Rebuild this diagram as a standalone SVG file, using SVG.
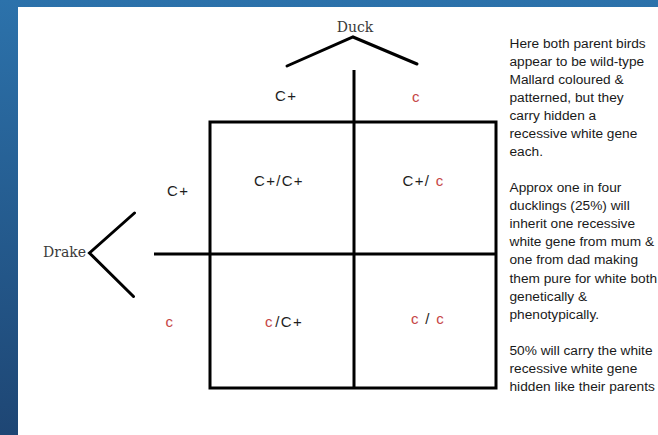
<svg xmlns="http://www.w3.org/2000/svg" width="658" height="435" viewBox="0 0 658 435">
  <defs>
    <linearGradient id="bg" x1="0" y1="0" x2="0" y2="1">
      <stop offset="0" stop-color="#2c72ab"/>
      <stop offset="1" stop-color="#1e4674"/>
    </linearGradient>
  </defs>
  <style>
    .ln { stroke: #000; stroke-width: 3; fill: none; }
    .caret { stroke: #000; stroke-width: 3; fill: none; stroke-linecap: round; stroke-linejoin: miter; }
    .parent { font-family: "DejaVu Serif", "Liberation Serif", serif; font-size: 14px; fill: #3a3a3a; }
    .lbl { font-family: "Liberation Sans", Arial, sans-serif; font-size: 15px; fill: #1e1e1e; letter-spacing: 1.3px; }
    .red { fill: #c64646; }
    .note { font-family: "Liberation Sans", Arial, sans-serif; font-size: 13.7px; fill: #1a1a1a; }
  </style>

  <rect x="0" y="0" width="658" height="435" fill="url(#bg)"/>
  <rect x="18" y="7" width="640" height="428" fill="#ffffff"/>

  <g id="connectors">
    <rect class="ln" x="210" y="122" width="286" height="266"/>
    <line class="ln" x1="354" y1="70" x2="354" y2="388"/>
    <line class="ln" x1="154" y1="254" x2="496" y2="254"/>
  </g>

  <g id="duck">
    <polyline class="caret" points="287,66 353,37 417,64"/>
    <text class="parent" x="355" y="31.5" text-anchor="middle">Duck</text>
  </g>

  <g id="drake">
    <polyline class="caret" points="134.5,213 89.5,253 133.5,296.5"/>
    <text class="parent" x="64.5" y="257" text-anchor="middle">Drake</text>
  </g>

  <g id="duck-alleles">
    <text class="lbl" x="275" y="101">C+</text>
    <text class="lbl red" x="412" y="102">c</text>
  </g>

  <g id="drake-alleles">
    <text class="lbl" x="167" y="196">C+</text>
    <text class="lbl red" x="165.5" y="326.5">c</text>
  </g>

  <g id="cell-tl">
    <text class="lbl" x="254" y="186">C+/C+</text>
  </g>
  <g id="cell-tr">
    <text class="lbl" x="402.5" y="186">C+/ <tspan class="red">c</tspan></text>
  </g>
  <g id="cell-bl">
    <text class="lbl" x="265" y="327"><tspan class="red">c</tspan><tspan dx="1.5">/C+</tspan></text>
  </g>
  <g id="cell-br">
    <text class="lbl" x="411" y="324"><tspan class="red">c</tspan> / <tspan class="red">c</tspan></text>
  </g>

  <g id="notes">
    <text class="note">
      <tspan x="509.5" y="47.5">Here both parent birds</tspan>
      <tspan x="509.5" y="65.6">appear to be wild-type</tspan>
      <tspan x="509.5" y="83.7">Mallard coloured &amp;</tspan>
      <tspan x="509.5" y="101.7">patterned, but they</tspan>
      <tspan x="509.5" y="119.8">carry hidden a</tspan>
      <tspan x="509.5" y="137.9">recessive white gene</tspan>
      <tspan x="509.5" y="156">each.</tspan>
      <tspan x="509.5" y="192.1">Approx one in four</tspan>
      <tspan x="509.5" y="210.2">ducklings (25%) will</tspan>
      <tspan x="509.5" y="228.3">inherit one recessive</tspan>
      <tspan x="509.5" y="246.3">white gene from mum &amp;</tspan>
      <tspan x="509.5" y="264.4">one from dad making</tspan>
      <tspan x="509.5" y="282.5">them pure for white both</tspan>
      <tspan x="509.5" y="300.6">genetically &amp;</tspan>
      <tspan x="509.5" y="318.7">phenotypically.</tspan>
      <tspan x="509.5" y="354.9">50% will carry the white</tspan>
      <tspan x="509.5" y="372.9">recessive white gene</tspan>
      <tspan x="509.5" y="391">hidden like their parents</tspan>
    </text>
  </g>
</svg>
